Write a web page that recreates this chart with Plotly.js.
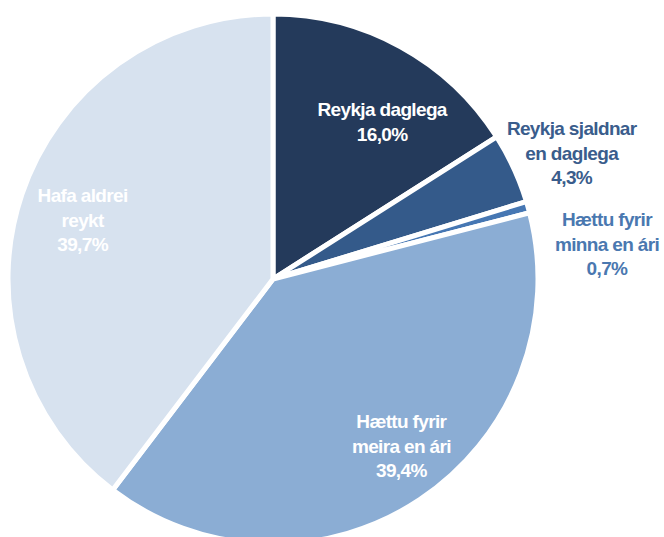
<!DOCTYPE html>
<html>
<head>
<meta charset="utf-8">
<script src="https://cdn.plot.ly/plotly-3.0.1.min.js"></script>
<style>
html,body{margin:0;padding:0;overflow:hidden;background:#fff;}
#chart{width:664px;height:558px;}
#chart .annotation-text{letter-spacing:-0.65px;}
</style>
</head>
<body>
<div id="chart"></div>
<script>
const labelLines = [
  ["Reykja daglega"],
  ["Reykja sjaldnar", "en daglega"],
  ["Hættu fyrir", "minna en ári"],
  ["Hættu fyrir", "meira en ári"],
  ["Hafa aldrei", "reykt"]
];
const categories = ["Reykja daglega", "Reykja sjaldnar en daglega", "Hættu fyrir minna en ári", "Hættu fyrir meira en ári", "Hafa aldrei reykt"];
const values = [16.0, 4.3, 0.7, 39.4, 39.7];
const colors = ["#243a5b", "#345a8a", "#4677b3", "#8badd4", "#d7e2ef"];
const textColors = ["#ffffff", "#3a5d8c", "#4a78b0", "#ffffff", "#ffffff"];

const W = 664, H = 558;
// label centre positions (px) – layout only
const labelPos = [[382, 122], [572, 153], [607, 244], [401, 446], [82, 220]];

const fmt = v => v.toFixed(1).replace(".", ",") + "%";

const annotations = categories.map((c, i) => ({
  x: labelPos[i][0] / W,
  y: 1 - labelPos[i][1] / H,
  xref: "paper", yref: "paper",
  xanchor: "center", yanchor: "middle",
  showarrow: false,
  align: "center",
  text: labelLines[i].concat([fmt(values[i])]).join("<br>"),
  font: {family: "Liberation Sans, Arial, sans-serif", size: 19, color: textColors[i], weight: "bold"}
}));

Plotly.newPlot("chart", [{
  type: "pie",
  labels: categories,
  values: values,
  sort: false,
  direction: "clockwise",
  rotation: 0,
  textinfo: "none",
  hoverinfo: "label+percent",
  marker: {colors: colors, line: {color: "#ffffff", width: 5}},
  domain: {x: [8 / W, 538 / W], y: [0, 1]}
}], {
  width: W, height: H,
  margin: {l: 0, r: 0, t: 0, b: 0},
  showlegend: false,
  paper_bgcolor: "#ffffff",
  annotations: annotations
}, {displayModeBar: false, staticPlot: true});
</script>
</body>
</html>
